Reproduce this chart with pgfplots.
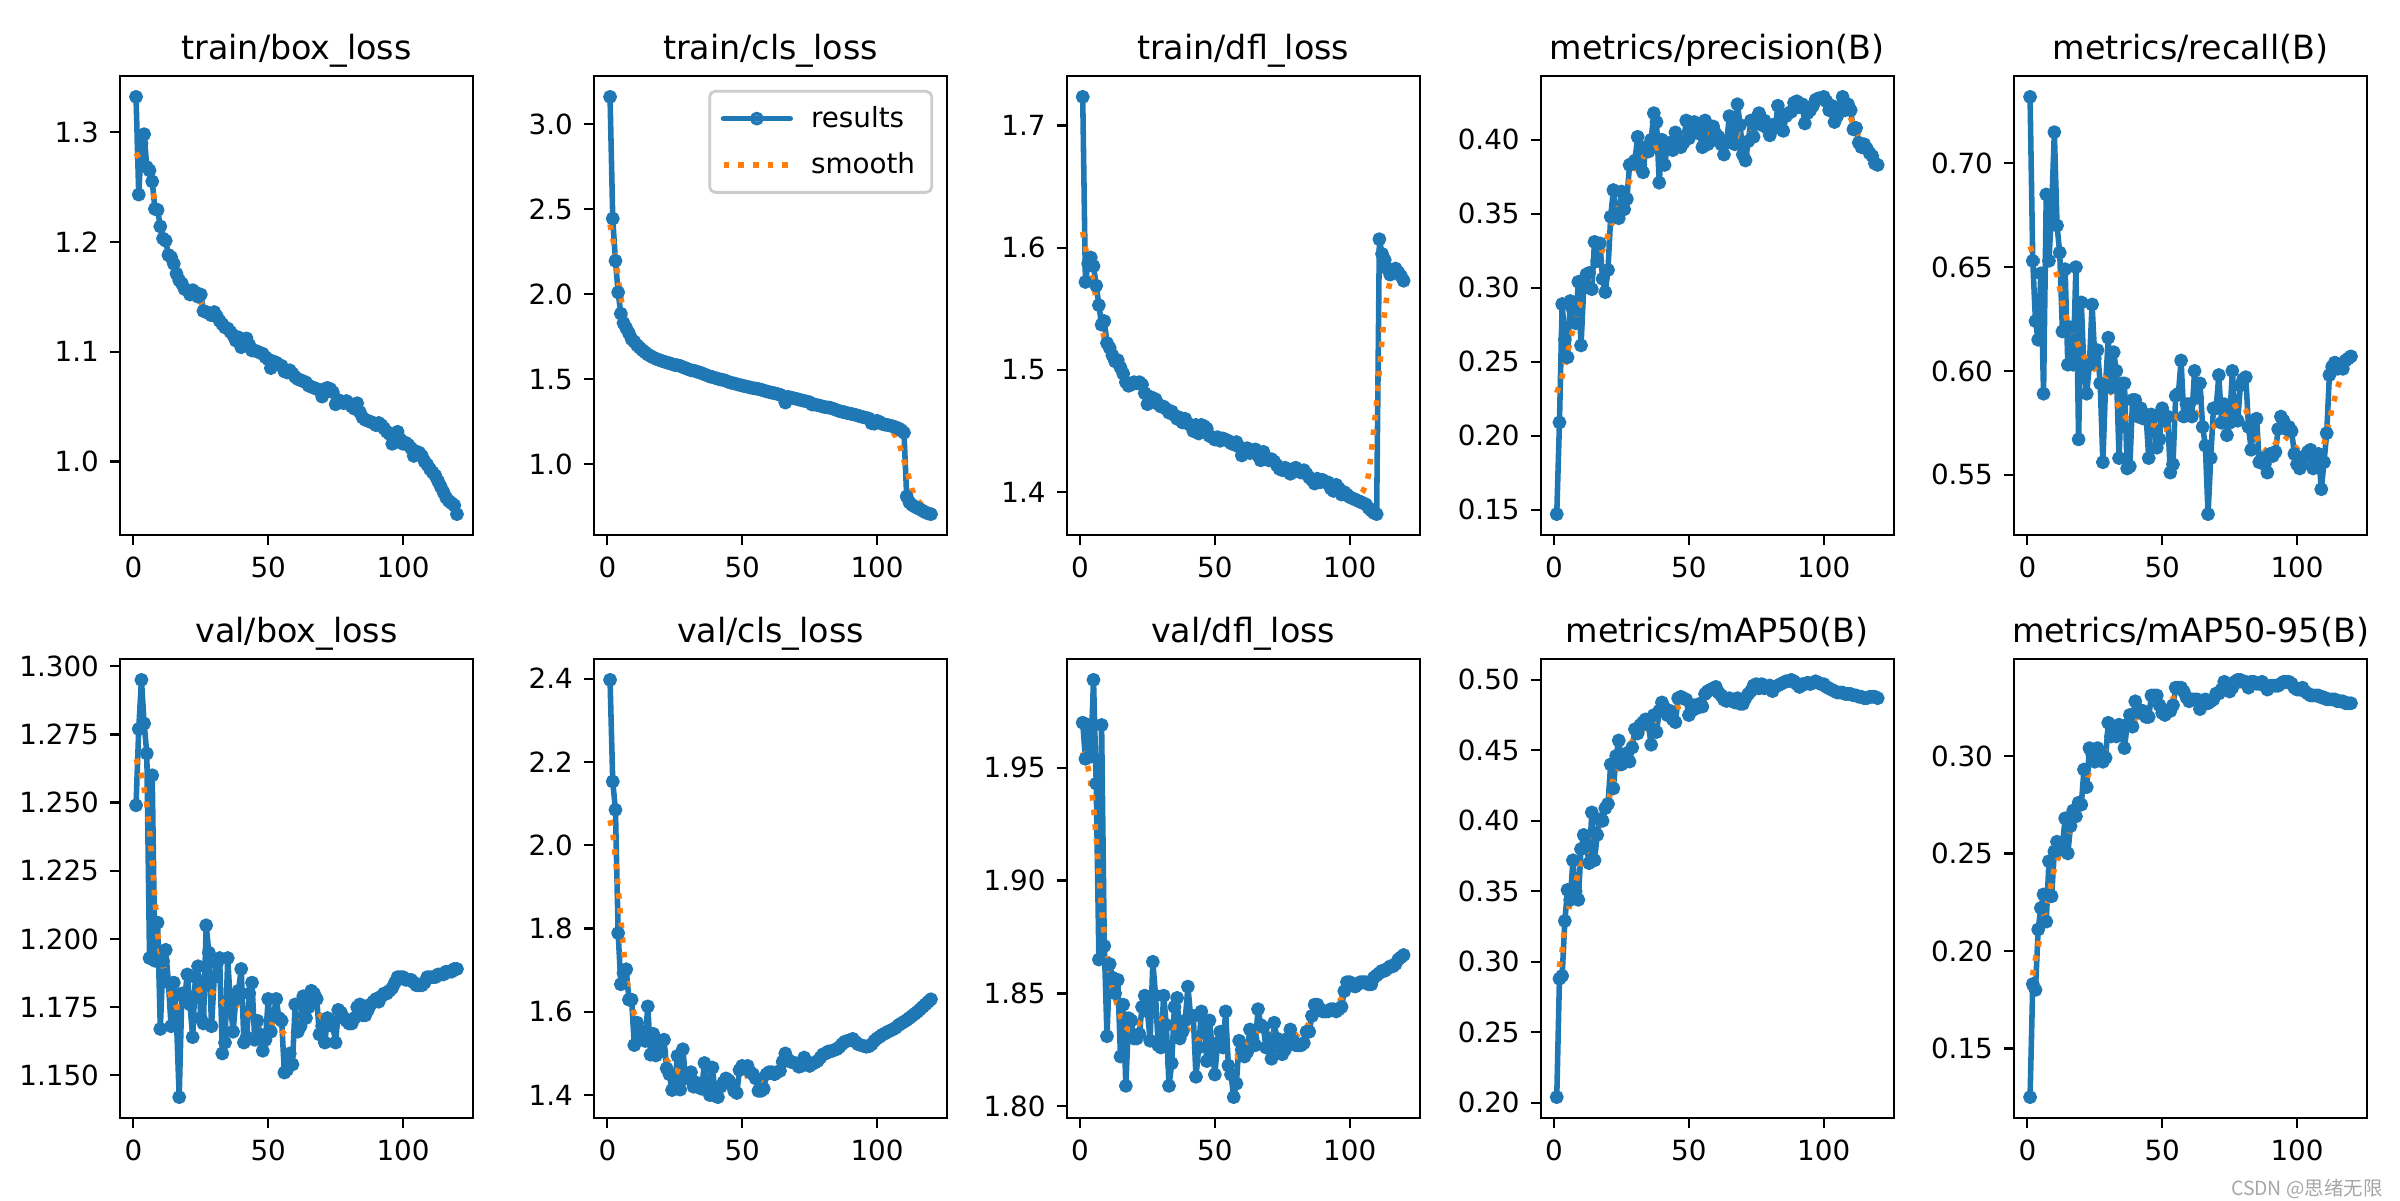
\documentclass[border=0pt]{standalone}
\usepackage{fontspec}
\setmainfont{DejaVu Sans}
\newfontfamily\cjk{Noto Sans CJK SC}
\usepackage{pgfplots}
\pgfplotsset{compat=1.18}
\definecolor{C0}{HTML}{1F77B4}
\definecolor{C1}{HTML}{FF7F0E}
\pgfplotsset{
  panel/.style={
    scale only axis, width=127.08pt, height=165.24pt, anchor=south west,
    xmin=-4.95, xmax=125.95, enlarge x limits=false, enlarge y limits=0.05,
    xtick={0,50,100}, tick pos=left, tick align=outside, major tick length=3.5pt,
    tick style={line width=0.8pt, black},
    axis line style={line width=0.8pt},
    scaled y ticks=false,
    /pgf/number format/assume math mode=true,
    ticklabel style={font=\fontsize{10}{12}\selectfont},
    yticklabel style={/pgf/number format/fixed, /pgf/number format/fixed zerofill, inner sep=0pt, xshift=-3.9pt},
    xticklabel style={inner sep=0pt, yshift=-4.3pt},
    title style={font=\fontsize{12}{14}\selectfont, at={(0.5,1)}, anchor=base, inner sep=0pt},
  },
  res/.style={color=C0, line width=2pt, line join=round, line cap=round, mark=*, mark size=2pt, mark options={solid, line width=1pt}},
  smo/.style={color=C1, line width=2pt, no marks, dash pattern=on 2pt off 3.3pt},
}
\begin{document}
\begin{tikzpicture}
\path[use as bounding box] (0,0) rectangle (864pt,432pt);

% ---------- train/box_loss
\begin{axis}[panel, at={(43.2pt,239.4pt)}, title={train/box\_loss},
  ytick={1.0,1.1,1.2,1.3}, yticklabel style={/pgf/number format/precision=1}]
\addplot[res] coordinates {(1,1.332)(2,1.243)(3,1.290)(4,1.298)(5,1.268)(6,1.265)(7,1.255)(8,1.230)(9,1.229)(10,1.214)
(11,1.203)(12,1.201)(13,1.188)(14,1.186)(15,1.180)(16,1.171)(17,1.165)(18,1.162)(19,1.157)(20,1.156)
(21,1.152)(22,1.156)(23,1.154)(24,1.150)(25,1.152)(26,1.137)(27,1.136)(28,1.135)(29,1.133)(30,1.136)
(31,1.132)(32,1.128)(33,1.125)(34,1.122)(35,1.121)(36,1.118)(37,1.115)(38,1.110)(39,1.113)(40,1.104)
(41,1.109)(42,1.112)(43,1.106)(44,1.101)(45,1.101)(46,1.100)(47,1.099)(48,1.098)(49,1.095)(50,1.093)
(51,1.085)(52,1.091)(53,1.090)(54,1.088)(55,1.087)(56,1.082)(57,1.081)(58,1.083)(59,1.080)(60,1.077)
(61,1.075)(62,1.074)(63,1.073)(64,1.072)(65,1.069)(66,1.068)(67,1.067)(68,1.066)(69,1.065)(70,1.059)
(71,1.066)(72,1.067)(73,1.066)(74,1.063)(75,1.052)(76,1.056)(77,1.054)(78,1.053)(79,1.055)(80,1.053)
(81,1.050)(82,1.048)(83,1.053)(84,1.045)(85,1.040)(86,1.038)(87,1.037)(88,1.036)(89,1.035)(90,1.033)
(91,1.035)(92,1.033)(93,1.030)(94,1.027)(95,1.025)(96,1.016)(97,1.022)(98,1.027)(99,1.020)(100,1.016)
(101,1.017)(102,1.015)(103,1.012)(104,1.005)(105,1.009)(106,1.008)(107,1.005)(108,1.000)(109,0.997)(110,0.993)
(111,0.990)(112,0.987)(113,0.982)(114,0.977)(115,0.972)(116,0.967)(117,0.964)(118,0.962)(119,0.960)(120,0.952)};
\addplot[smo] coordinates {(1,1.281)(3,1.272)(5,1.262)(7,1.247)(9,1.230)(11,1.212)(13,1.196)(15,1.182)(17,1.170)(19,1.161)
(21,1.156)(23,1.151)(25,1.145)(27,1.138)(29,1.134)(31,1.131)(33,1.126)(35,1.121)(37,1.116)(39,1.111)
(41,1.108)(43,1.105)(45,1.102)(47,1.099)(49,1.095)(51,1.091)(53,1.089)(55,1.086)(57,1.083)(59,1.080)
(61,1.076)(63,1.073)(65,1.070)(67,1.068)(69,1.066)(71,1.065)(73,1.063)(75,1.059)(77,1.055)(79,1.054)
(81,1.051)(83,1.048)(85,1.043)(87,1.039)(89,1.036)(91,1.034)(93,1.031)(95,1.026)(97,1.022)(99,1.019)
(101,1.016)(103,1.012)(105,1.008)(107,1.004)(109,0.999)(111,0.992)(113,0.984)(115,0.975)(117,0.968)(119,0.962)(120,0.960)};
\end{axis}

% ---------- train/cls_loss
\begin{axis}[panel, at={(213.84pt,239.4pt)}, title={train/cls\_loss},
  ytick={1.0,1.5,2.0,2.5,3.0}, yticklabel style={/pgf/number format/precision=1},
  legend cell align=left,
  legend style={at={(1,1)}, anchor=north east, xshift=-5pt, yshift=-5pt, draw=black!20, line width=1pt,
    rounded corners=2pt, fill=white, fill opacity=0.8, text opacity=1, font=\fontsize{10}{12}\selectfont,
    inner xsep=4pt, inner ysep=3.3pt, row sep=3.6pt,
    /tikz/every odd column/.append style={column sep=4.5pt}},
  legend image code/.code={\draw[mark repeat=2,mark phase=2] plot coordinates {(0pt,0pt) (12pt,0pt) (24pt,0pt)};}]
\addplot[res] coordinates {(1,3.160)(2,2.444)(3,2.196)(4,2.010)(5,1.885)(6,1.830)(7,1.800)(8,1.770)(9,1.735)(10,1.720)
(11,1.700)(12,1.685)(13,1.670)(14,1.658)(15,1.645)(16,1.636)(17,1.627)(18,1.620)(19,1.614)(20,1.608)
(21,1.603)(22,1.598)(23,1.594)(24,1.588)(25,1.583)(26,1.582)(27,1.578)(28,1.570)(29,1.565)(30,1.558)
(31,1.552)(32,1.550)(33,1.545)(34,1.540)(35,1.535)(36,1.528)(37,1.522)(38,1.515)(39,1.512)(40,1.507)
(41,1.502)(42,1.498)(43,1.495)(44,1.490)(45,1.483)(46,1.478)(47,1.475)(48,1.470)(49,1.466)(50,1.462)
(51,1.458)(52,1.455)(53,1.451)(54,1.447)(55,1.445)(56,1.442)(57,1.438)(58,1.433)(59,1.428)(60,1.424)
(61,1.420)(62,1.417)(63,1.413)(64,1.409)(65,1.400)(66,1.362)(67,1.395)(68,1.392)(69,1.388)(70,1.384)
(71,1.380)(72,1.376)(73,1.372)(74,1.368)(75,1.364)(76,1.350)(77,1.350)(78,1.347)(79,1.343)(80,1.338)
(81,1.335)(82,1.333)(83,1.330)(84,1.324)(85,1.318)(86,1.312)(87,1.308)(88,1.305)(89,1.300)(90,1.297)
(91,1.293)(92,1.290)(93,1.285)(94,1.280)(95,1.276)(96,1.272)(97,1.268)(98,1.240)(99,1.238)(100,1.255)
(101,1.248)(102,1.236)(103,1.232)(104,1.230)(105,1.226)(106,1.222)(107,1.216)(108,1.210)(109,1.200)(110,1.185)
(111,0.810)(112,0.775)(113,0.760)(114,0.750)(115,0.742)(116,0.734)(117,0.725)(118,0.716)(119,0.710)(120,0.706)};
\addlegendentry{results}
\addplot[smo] coordinates {(1,2.41)(2,2.33)(3,2.22)(4,2.09)(5,1.98)(6,1.90)(7,1.84)(8,1.79)(9,1.76)(10,1.73)
(12,1.70)(14,1.672)(16,1.645)(18,1.625)(20,1.610)(24,1.590)(28,1.570)(32,1.550)(36,1.528)(40,1.507)
(44,1.489)(48,1.470)(52,1.455)(56,1.441)(60,1.424)(64,1.405)(68,1.390)(72,1.376)(76,1.357)(80,1.339)
(84,1.323)(88,1.304)(92,1.289)(96,1.268)(100,1.248)(103,1.232)(105,1.215)(107,1.16)(108,1.13)(109,1.08)
(110,1.02)(111,0.97)(112,0.91)(113,0.85)(114,0.81)(116,0.77)(118,0.74)(120,0.725)};
\addlegendentry{smooth}
\end{axis}

% ---------- train/dfl_loss
\begin{axis}[panel, at={(384.0pt,239.4pt)}, title={train/dfl\_loss},
  ytick={1.4,1.5,1.6,1.7}, yticklabel style={/pgf/number format/precision=1}]
\addplot[res] coordinates {(1,1.7235)(2,1.572)(3,1.587)(4,1.592)(5,1.585)(6,1.569)(7,1.553)(8,1.537)(9,1.540)(10,1.522)
(11,1.518)(12,1.512)(13,1.507)(14,1.508)(15,1.502)(16,1.497)(17,1.490)(18,1.487)(19,1.488)(20,1.490)
(21,1.489)(22,1.490)(23,1.488)(24,1.481)(25,1.472)(26,1.478)(27,1.477)(28,1.476)(29,1.472)(30,1.470)
(31,1.470)(32,1.468)(33,1.465)(34,1.466)(35,1.463)(36,1.460)(37,1.461)(38,1.457)(39,1.460)(40,1.456)
(41,1.455)(42,1.450)(43,1.455)(44,1.448)(45,1.455)(46,1.454)(47,1.452)(48,1.446)(49,1.445)(50,1.443)
(51,1.445)(52,1.442)(53,1.444)(54,1.443)(55,1.442)(56,1.440)(57,1.439)(58,1.441)(59,1.437)(60,1.430)
(61,1.433)(62,1.436)(63,1.432)(64,1.434)(65,1.435)(66,1.430)(67,1.426)(68,1.433)(69,1.428)(70,1.426)
(71,1.427)(72,1.425)(73,1.422)(74,1.419)(75,1.418)(76,1.420)(77,1.417)(78,1.415)(79,1.419)(80,1.420)
(81,1.417)(82,1.416)(83,1.418)(84,1.415)(85,1.412)(86,1.410)(87,1.407)(88,1.411)(89,1.408)(90,1.410)
(91,1.408)(92,1.408)(93,1.403)(94,1.401)(95,1.406)(96,1.403)(97,1.398)(98,1.400)(99,1.398)(100,1.396)
(101,1.395)(102,1.394)(103,1.393)(104,1.392)(105,1.391)(106,1.390)(107,1.387)(108,1.385)(109,1.383)(110,1.382)
(111,1.607)(112,1.595)(113,1.590)(114,1.583)(115,1.578)(116,1.581)(117,1.583)(118,1.580)(119,1.577)(120,1.573)};
\addplot[smo] coordinates {(1,1.613)(2,1.600)(3,1.590)(4,1.580)(5,1.570)(6,1.558)(7,1.546)(8,1.535)(9,1.526)(10,1.518)
(12,1.507)(14,1.500)(16,1.494)(18,1.490)(20,1.488)(22,1.485)(24,1.480)(26,1.477)(28,1.474)(30,1.471)
(32,1.468)(34,1.465)(36,1.462)(38,1.459)(40,1.456)(42,1.453)(44,1.451)(46,1.450)(48,1.447)(50,1.445)
(52,1.443)(54,1.443)(56,1.441)(58,1.438)(60,1.435)(62,1.434)(64,1.433)(66,1.431)(68,1.429)(70,1.427)
(72,1.425)(74,1.421)(76,1.419)(78,1.418)(80,1.418)(82,1.417)(84,1.415)(86,1.411)(88,1.409)(90,1.409)
(92,1.407)(94,1.404)(96,1.402)(98,1.399)(100,1.397)(102,1.396)(104,1.398)(105,1.401)(106,1.406)(107,1.414)
(108,1.432)(109,1.452)(110,1.474)(111,1.500)(112,1.525)(113,1.548)(114,1.563)(115,1.572)(117,1.578)(119,1.578)(120,1.577)};
\end{axis}

% ---------- metrics/precision(B)
\begin{axis}[panel, at={(554.65pt,239.4pt)}, title={metrics/precision(B)},
  ytick={0.15,0.20,0.25,0.30,0.35,0.40}, yticklabel style={/pgf/number format/precision=2}]
\addplot[res] coordinates {(1,0.147)(2,0.209)(3,0.289)(4,0.265)(5,0.253)(6,0.291)(7,0.285)(8,0.276)(9,0.304)(10,0.261)
(11,0.300)(12,0.309)(13,0.310)(14,0.299)(15,0.331)(16,0.318)(17,0.330)(18,0.306)(19,0.297)(20,0.312)
(21,0.348)(22,0.366)(23,0.350)(24,0.347)(25,0.365)(26,0.353)(27,0.360)(28,0.383)(29,0.384)(30,0.386)
(31,0.402)(32,0.383)(33,0.378)(34,0.395)(35,0.392)(36,0.400)(37,0.418)(38,0.412)(39,0.371)(40,0.400)
(41,0.383)(42,0.396)(43,0.398)(44,0.393)(45,0.405)(46,0.400)(47,0.395)(48,0.398)(49,0.413)(50,0.401)
(51,0.410)(52,0.412)(53,0.406)(54,0.404)(55,0.395)(56,0.413)(57,0.397)(58,0.399)(59,0.409)(60,0.404)
(61,0.402)(62,0.397)(63,0.390)(64,0.398)(65,0.416)(66,0.404)(67,0.397)(68,0.424)(69,0.410)(70,0.390)
(71,0.386)(72,0.399)(73,0.413)(74,0.402)(75,0.414)(76,0.418)(77,0.410)(78,0.413)(79,0.408)(80,0.403)
(81,0.410)(82,0.408)(83,0.423)(84,0.413)(85,0.406)(86,0.416)(87,0.418)(88,0.419)(89,0.425)(90,0.426)
(91,0.422)(92,0.424)(93,0.411)(94,0.418)(95,0.420)(96,0.423)(97,0.427)(98,0.428)(99,0.428)(100,0.429)
(101,0.426)(102,0.420)(103,0.423)(104,0.412)(105,0.416)(106,0.422)(107,0.429)(108,0.420)(109,0.424)(110,0.420)
(111,0.407)(112,0.408)(113,0.398)(114,0.395)(115,0.397)(116,0.394)(117,0.391)(118,0.389)(119,0.384)(120,0.383)};
\addplot[smo] coordinates {(1,0.229)(3,0.240)(5,0.256)(7,0.272)(9,0.285)(11,0.298)(13,0.306)(15,0.314)(17,0.321)(19,0.330)
(21,0.341)(23,0.351)(25,0.360)(27,0.368)(29,0.376)(31,0.383)(33,0.388)(35,0.392)(37,0.394)(39,0.395)
(41,0.396)(43,0.398)(45,0.400)(47,0.401)(49,0.403)(51,0.405)(53,0.405)(55,0.404)(57,0.404)(59,0.403)
(61,0.401)(63,0.400)(65,0.402)(67,0.404)(69,0.403)(71,0.402)(73,0.404)(75,0.408)(77,0.410)(79,0.410)
(81,0.411)(83,0.413)(85,0.415)(87,0.418)(89,0.421)(91,0.422)(93,0.421)(95,0.421)(97,0.423)(99,0.425)
(101,0.425)(103,0.423)(105,0.421)(107,0.421)(109,0.418)(111,0.411)(113,0.403)(115,0.397)(117,0.392)(119,0.388)(120,0.386)};
\end{axis}

% ---------- metrics/recall(B)
\begin{axis}[panel, at={(725.04pt,239.4pt)}, title={metrics/recall(B)},
  ytick={0.55,0.60,0.65,0.70}, yticklabel style={/pgf/number format/precision=2}]
\addplot[res] coordinates {(1,0.732)(2,0.653)(3,0.624)(4,0.615)(5,0.647)(6,0.589)(7,0.685)(8,0.653)(9,0.678)(10,0.715)
(11,0.670)(12,0.657)(13,0.619)(14,0.649)(15,0.603)(16,0.621)(17,0.603)(18,0.650)(19,0.567)(20,0.633)
(21,0.600)(22,0.589)(23,0.603)(24,0.632)(25,0.606)(26,0.610)(27,0.594)(28,0.556)(29,0.593)(30,0.616)
(31,0.592)(32,0.609)(33,0.600)(34,0.558)(35,0.594)(36,0.594)(37,0.553)(38,0.554)(39,0.586)(40,0.586)
(41,0.578)(42,0.582)(43,0.577)(44,0.579)(45,0.558)(46,0.579)(47,0.578)(48,0.563)(49,0.567)(50,0.582)
(51,0.576)(52,0.578)(53,0.551)(54,0.555)(55,0.588)(56,0.589)(57,0.605)(58,0.578)(59,0.584)(60,0.584)
(61,0.578)(62,0.600)(63,0.587)(64,0.594)(65,0.573)(66,0.564)(67,0.531)(68,0.558)(69,0.582)(70,0.582)
(71,0.598)(72,0.575)(73,0.584)(74,0.569)(75,0.575)(76,0.600)(77,0.578)(78,0.576)(79,0.593)(80,0.596)
(81,0.597)(82,0.573)(83,0.562)(84,0.576)(85,0.577)(86,0.556)(87,0.558)(88,0.555)(89,0.551)(90,0.560)
(91,0.559)(92,0.561)(93,0.572)(94,0.578)(95,0.576)(96,0.572)(97,0.573)(98,0.571)(99,0.560)(100,0.555)
(101,0.553)(102,0.555)(103,0.559)(104,0.561)(105,0.562)(106,0.553)(107,0.556)(108,0.560)(109,0.543)(110,0.556)
(111,0.570)(112,0.598)(113,0.602)(114,0.604)(115,0.601)(116,0.603)(117,0.601)(118,0.605)(119,0.606)(120,0.607)};
\addplot[smo] coordinates {(1,0.660)(3,0.653)(5,0.653)(7,0.652)(9,0.653)(11,0.646)(13,0.633)(15,0.623)(17,0.618)(19,0.612)
(21,0.607)(23,0.604)(25,0.601)(27,0.598)(29,0.596)(31,0.590)(33,0.585)(35,0.580)(37,0.577)(39,0.576)
(41,0.576)(43,0.576)(45,0.575)(47,0.574)(49,0.572)(51,0.572)(53,0.574)(55,0.577)(57,0.582)(59,0.583)
(61,0.583)(63,0.579)(65,0.574)(67,0.571)(69,0.573)(71,0.576)(73,0.578)(75,0.581)(77,0.583)(79,0.584)
(81,0.581)(83,0.575)(85,0.568)(87,0.563)(89,0.561)(91,0.563)(93,0.567)(95,0.569)(97,0.567)(99,0.564)
(101,0.561)(103,0.559)(105,0.558)(107,0.557)(109,0.560)(111,0.570)(113,0.582)(115,0.592)(117,0.599)(119,0.603)(120,0.604)};
\end{axis}

% ---------- val/box_loss
\begin{axis}[panel, at={(43.2pt,29.52pt)}, title={val/box\_loss},
  ytick={1.150,1.175,1.200,1.225,1.250,1.275,1.300}, yticklabel style={/pgf/number format/precision=3}]
\addplot[res] coordinates {(1,1.249)(2,1.277)(3,1.295)(4,1.279)(5,1.268)(6,1.193)(7,1.260)(8,1.192)(9,1.206)(10,1.167)
(11,1.192)(12,1.196)(13,1.184)(14,1.168)(15,1.184)(16,1.170)(17,1.142)(18,1.180)(19,1.178)(20,1.187)
(21,1.176)(22,1.164)(23,1.186)(24,1.190)(25,1.171)(26,1.169)(27,1.205)(28,1.195)(29,1.168)(30,1.186)
(31,1.191)(32,1.193)(33,1.158)(34,1.162)(35,1.193)(36,1.176)(37,1.166)(38,1.178)(39,1.181)(40,1.189)
(41,1.162)(42,1.164)(43,1.180)(44,1.184)(45,1.163)(46,1.170)(47,1.165)(48,1.159)(49,1.163)(50,1.178)
(51,1.166)(52,1.172)(53,1.178)(54,1.171)(55,1.170)(56,1.151)(57,1.152)(58,1.158)(59,1.154)(60,1.176)
(61,1.166)(62,1.168)(63,1.179)(64,1.171)(65,1.175)(66,1.181)(67,1.180)(68,1.178)(69,1.165)(70,1.168)
(71,1.162)(72,1.171)(73,1.170)(74,1.168)(75,1.162)(76,1.174)(77,1.173)(78,1.171)(79,1.170)(80,1.169)
(81,1.169)(82,1.171)(83,1.175)(84,1.176)(85,1.172)(86,1.172)(87,1.174)(88,1.176)(89,1.177)(90,1.178)
(91,1.177)(92,1.179)(93,1.180)(94,1.180)(95,1.181)(96,1.182)(97,1.184)(98,1.186)(99,1.186)(100,1.186)
(101,1.185)(102,1.185)(103,1.185)(104,1.184)(105,1.183)(106,1.183)(107,1.183)(108,1.184)(109,1.186)(110,1.186)
(111,1.186)(112,1.186)(113,1.187)(114,1.187)(115,1.187)(116,1.188)(117,1.188)(118,1.188)(119,1.189)(120,1.189)};
\addplot[smo] coordinates {(1,1.266)(3,1.260)(4,1.255)(5,1.249)(6,1.240)(7,1.228)(8,1.215)(9,1.202)(10,1.195)(12,1.186)
(14,1.179)(16,1.175)(18,1.175)(20,1.177)(22,1.179)(24,1.181)(26,1.182)(28,1.181)(30,1.180)(32,1.178)
(34,1.176)(36,1.176)(38,1.176)(40,1.175)(42,1.173)(44,1.171)(46,1.169)(48,1.168)(50,1.168)(52,1.169)
(54,1.168)(56,1.165)(58,1.164)(60,1.166)(62,1.170)(64,1.173)(66,1.175)(68,1.174)(70,1.171)(72,1.169)
(74,1.168)(76,1.168)(78,1.170)(80,1.170)(82,1.171)(84,1.173)(86,1.174)(88,1.175)(90,1.176)(92,1.178)
(94,1.180)(96,1.182)(98,1.184)(100,1.185)(102,1.185)(104,1.184)(106,1.184)(108,1.184)(110,1.185)(112,1.186)
(114,1.187)(116,1.187)(118,1.188)(120,1.189)};
\end{axis}

% ---------- val/cls_loss
\begin{axis}[panel, at={(213.84pt,29.52pt)}, title={val/cls\_loss},
  ytick={1.4,1.6,1.8,2.0,2.2,2.4}, yticklabel style={/pgf/number format/precision=1}]
\addplot[res] coordinates {(1,2.397)(2,2.153)(3,2.085)(4,1.789)(5,1.666)(6,1.693)(7,1.702)(8,1.629)(9,1.629)(10,1.520)
(11,1.574)(12,1.542)(13,1.552)(14,1.530)(15,1.613)(16,1.497)(17,1.547)(18,1.495)(19,1.520)(20,1.505)
(21,1.533)(22,1.464)(23,1.450)(24,1.412)(25,1.430)(26,1.494)(27,1.413)(28,1.510)(29,1.440)(30,1.440)
(31,1.455)(32,1.420)(33,1.430)(34,1.418)(35,1.415)(36,1.477)(37,1.430)(38,1.400)(39,1.466)(40,1.398)
(41,1.395)(42,1.420)(43,1.430)(44,1.440)(45,1.435)(46,1.425)(47,1.410)(48,1.405)(49,1.460)(50,1.470)
(51,1.465)(52,1.470)(53,1.455)(54,1.450)(55,1.440)(56,1.410)(57,1.410)(58,1.415)(59,1.450)(60,1.455)
(61,1.455)(62,1.450)(63,1.455)(64,1.458)(65,1.480)(66,1.500)(67,1.485)(68,1.480)(69,1.478)(70,1.476)
(71,1.468)(72,1.470)(73,1.490)(74,1.480)(75,1.470)(76,1.475)(77,1.478)(78,1.482)(79,1.490)(80,1.498)
(81,1.500)(82,1.505)(83,1.505)(84,1.508)(85,1.510)(86,1.515)(87,1.522)(88,1.528)(89,1.530)(90,1.532)
(91,1.535)(92,1.528)(93,1.522)(94,1.520)(95,1.518)(96,1.516)(97,1.517)(98,1.522)(99,1.530)(100,1.536)
(101,1.540)(102,1.545)(103,1.548)(104,1.552)(105,1.555)(106,1.558)(107,1.562)(108,1.568)(109,1.572)(110,1.576)
(111,1.580)(112,1.585)(113,1.590)(114,1.595)(115,1.600)(116,1.606)(117,1.612)(118,1.618)(119,1.624)(120,1.630)};
\addplot[smo] coordinates {(1,2.06)(2,2.03)(3,1.97)(4,1.90)(5,1.82)(6,1.75)(7,1.69)(8,1.645)(9,1.615)(10,1.595)
(12,1.570)(14,1.550)(16,1.535)(18,1.515)(20,1.500)(22,1.485)(24,1.465)(26,1.457)(28,1.452)(30,1.448)
(32,1.442)(34,1.437)(36,1.435)(38,1.432)(40,1.428)(42,1.426)(44,1.428)(46,1.432)(48,1.438)(50,1.444)
(52,1.447)(54,1.444)(56,1.437)(58,1.436)(60,1.443)(62,1.452)(64,1.462)(66,1.473)(68,1.479)(70,1.479)
(72,1.479)(74,1.478)(76,1.478)(78,1.482)(80,1.490)(82,1.498)(84,1.505)(86,1.513)(88,1.521)(90,1.527)
(92,1.527)(94,1.523)(96,1.522)(98,1.524)(100,1.532)(102,1.541)(104,1.550)(106,1.558)(108,1.567)(110,1.576)
(112,1.585)(114,1.595)(116,1.605)(118,1.615)(120,1.622)};
\end{axis}

% ---------- val/dfl_loss
\begin{axis}[panel, at={(384.0pt,29.52pt)}, title={val/dfl\_loss},
  ytick={1.80,1.85,1.90,1.95}, yticklabel style={/pgf/number format/precision=2}]
\addplot[res] coordinates {(1,1.970)(2,1.954)(3,1.969)(4,1.955)(5,1.989)(6,1.943)(7,1.865)(8,1.969)(9,1.871)(10,1.831)
(11,1.863)(12,1.857)(13,1.850)(14,1.856)(15,1.822)(16,1.845)(17,1.809)(18,1.839)(19,1.838)(20,1.830)
(21,1.830)(22,1.832)(23,1.844)(24,1.849)(25,1.842)(26,1.829)(27,1.864)(28,1.849)(29,1.827)(30,1.826)
(31,1.849)(32,1.836)(33,1.809)(34,1.819)(35,1.844)(36,1.848)(37,1.830)(38,1.833)(39,1.838)(40,1.853)
(41,1.840)(42,1.840)(43,1.813)(44,1.826)(45,1.842)(46,1.838)(47,1.820)(48,1.838)(49,1.826)(50,1.814)
(51,1.828)(52,1.833)(53,1.826)(54,1.842)(55,1.818)(56,1.814)(57,1.804)(58,1.810)(59,1.829)(60,1.825)
(61,1.822)(62,1.824)(63,1.834)(64,1.830)(65,1.827)(66,1.843)(67,1.836)(68,1.835)(69,1.826)(70,1.830)
(71,1.821)(72,1.837)(73,1.830)(74,1.826)(75,1.823)(76,1.825)(77,1.830)(78,1.834)(79,1.829)(80,1.827)
(81,1.827)(82,1.827)(83,1.828)(84,1.833)(85,1.833)(86,1.840)(87,1.845)(88,1.845)(89,1.843)(90,1.842)
(91,1.842)(92,1.842)(93,1.843)(94,1.843)(95,1.842)(96,1.843)(97,1.844)(98,1.851)(99,1.855)(100,1.855)
(101,1.854)(102,1.853)(103,1.854)(104,1.855)(105,1.855)(106,1.855)(107,1.854)(108,1.854)(109,1.857)(110,1.858)
(111,1.859)(112,1.860)(113,1.860)(114,1.861)(115,1.862)(116,1.862)(117,1.863)(118,1.865)(119,1.866)(120,1.867)};
\addplot[smo] coordinates {(1,1.957)(2,1.954)(3,1.950)(4,1.943)(5,1.933)(6,1.919)(7,1.903)(8,1.887)(9,1.876)(10,1.867)
(11,1.859)(12,1.852)(13,1.848)(14,1.844)(15,1.840)(16,1.836)(18,1.834)(20,1.834)(22,1.837)(24,1.840)
(26,1.841)(28,1.841)(30,1.839)(32,1.836)(34,1.835)(36,1.835)(38,1.835)(40,1.834)(42,1.831)(44,1.829)
(46,1.828)(48,1.827)(50,1.827)(52,1.826)(54,1.825)(56,1.823)(58,1.822)(60,1.825)(62,1.828)(64,1.831)
(66,1.833)(68,1.833)(70,1.832)(72,1.831)(74,1.829)(76,1.829)(78,1.830)(80,1.831)(82,1.833)(84,1.835)
(86,1.839)(88,1.841)(90,1.842)(92,1.843)(94,1.844)(96,1.846)(98,1.850)(100,1.853)(102,1.854)(104,1.855)
(106,1.856)(108,1.857)(110,1.858)(112,1.860)(114,1.861)(116,1.863)(118,1.865)(120,1.866)};
\end{axis}

% ---------- metrics/mAP50(B)
\begin{axis}[panel, at={(554.65pt,29.52pt)}, title={metrics/mAP50(B)},
  ytick={0.20,0.25,0.30,0.35,0.40,0.45,0.50}, yticklabel style={/pgf/number format/precision=2}]
\addplot[res] coordinates {(1,0.204)(2,0.288)(3,0.290)(4,0.329)(5,0.351)(6,0.344)(7,0.372)(8,0.350)(9,0.344)(10,0.380)
(11,0.390)(12,0.382)(13,0.370)(14,0.406)(15,0.372)(16,0.390)(17,0.401)(18,0.400)(19,0.409)(20,0.412)
(21,0.440)(22,0.423)(23,0.446)(24,0.457)(25,0.440)(26,0.444)(27,0.448)(28,0.442)(29,0.452)(30,0.465)
(31,0.462)(32,0.468)(33,0.470)(34,0.472)(35,0.468)(36,0.454)(37,0.475)(38,0.463)(39,0.478)(40,0.484)
(41,0.480)(42,0.475)(43,0.478)(44,0.472)(45,0.470)(46,0.487)(47,0.488)(48,0.487)(49,0.486)(50,0.475)
(51,0.478)(52,0.482)(53,0.480)(54,0.483)(55,0.481)(56,0.490)(57,0.492)(58,0.493)(59,0.494)(60,0.495)
(61,0.491)(62,0.489)(63,0.486)(64,0.485)(65,0.487)(66,0.485)(67,0.484)(68,0.487)(69,0.483)(70,0.483)
(71,0.487)(72,0.490)(73,0.492)(74,0.496)(75,0.497)(76,0.494)(77,0.497)(78,0.494)(79,0.495)(80,0.496)
(81,0.492)(82,0.495)(83,0.496)(84,0.497)(85,0.498)(86,0.499)(87,0.499)(88,0.500)(89,0.499)(90,0.497)
(91,0.495)(92,0.497)(93,0.497)(94,0.498)(95,0.497)(96,0.498)(97,0.499)(98,0.498)(99,0.497)(100,0.497)
(101,0.495)(102,0.494)(103,0.493)(104,0.492)(105,0.491)(106,0.491)(107,0.491)(108,0.490)(109,0.490)(110,0.490)
(111,0.489)(112,0.489)(113,0.488)(114,0.488)(115,0.487)(116,0.487)(117,0.488)(118,0.488)(119,0.488)(120,0.487)};
\addplot[smo] coordinates {(1,0.286)(3,0.308)(4,0.326)(6,0.342)(7,0.349)(8,0.356)(10,0.370)(12,0.378)(14,0.385)(16,0.393)
(18,0.400)(20,0.412)(22,0.430)(24,0.439)(26,0.446)(28,0.454)(30,0.459)(32,0.463)(34,0.466)(36,0.469)
(38,0.472)(40,0.475)(42,0.477)(44,0.479)(46,0.481)(48,0.482)(50,0.482)(52,0.483)(54,0.485)(56,0.487)
(58,0.489)(60,0.490)(62,0.489)(64,0.487)(66,0.486)(68,0.486)(70,0.487)(72,0.489)(74,0.492)(76,0.494)
(78,0.495)(80,0.495)(82,0.495)(84,0.496)(86,0.497)(88,0.498)(90,0.498)(92,0.498)(94,0.498)(96,0.498)
(98,0.497)(100,0.496)(102,0.494)(104,0.492)(106,0.491)(108,0.490)(110,0.490)(112,0.489)(114,0.488)(116,0.488)
(118,0.488)(120,0.488)};
\end{axis}

% ---------- metrics/mAP50-95(B)
\begin{axis}[panel, at={(725.04pt,29.52pt)}, title={metrics/mAP50-95(B)},
  ytick={0.15,0.20,0.25,0.30}, yticklabel style={/pgf/number format/precision=2}]
\addplot[res] coordinates {(1,0.125)(2,0.183)(3,0.180)(4,0.211)(5,0.222)(6,0.229)(7,0.215)(8,0.246)(9,0.228)(10,0.251)
(11,0.256)(12,0.252)(13,0.254)(14,0.268)(15,0.250)(16,0.264)(17,0.272)(18,0.269)(19,0.276)(20,0.275)
(21,0.293)(22,0.284)(23,0.304)(24,0.301)(25,0.297)(26,0.304)(27,0.302)(28,0.297)(29,0.299)(30,0.317)
(31,0.310)(32,0.315)(33,0.310)(34,0.316)(35,0.313)(36,0.304)(37,0.316)(38,0.321)(39,0.315)(40,0.328)
(41,0.324)(42,0.322)(43,0.323)(44,0.320)(45,0.320)(46,0.331)(47,0.331)(48,0.331)(49,0.326)(50,0.322)
(51,0.321)(52,0.323)(53,0.323)(54,0.326)(55,0.335)(56,0.335)(57,0.335)(58,0.333)(59,0.330)(60,0.328)
(61,0.329)(62,0.329)(63,0.329)(64,0.324)(65,0.327)(66,0.329)(67,0.327)(68,0.328)(69,0.329)(70,0.332)
(71,0.332)(72,0.334)(73,0.338)(74,0.336)(75,0.333)(76,0.335)(77,0.338)(78,0.339)(79,0.339)(80,0.338)
(81,0.338)(82,0.335)(83,0.338)(84,0.338)(85,0.337)(86,0.337)(87,0.338)(88,0.336)(89,0.334)(90,0.336)
(91,0.336)(92,0.336)(93,0.336)(94,0.337)(95,0.338)(96,0.338)(97,0.338)(98,0.337)(99,0.335)(100,0.334)
(101,0.334)(102,0.335)(103,0.333)(104,0.332)(105,0.331)(106,0.331)(107,0.331)(108,0.331)(109,0.330)(110,0.330)
(111,0.329)(112,0.329)(113,0.329)(114,0.329)(115,0.328)(116,0.328)(117,0.328)(118,0.327)(119,0.327)(120,0.327)};
\addplot[smo] coordinates {(1,0.180)(3,0.196)(5,0.209)(6,0.217)(8,0.228)(9,0.236)(10,0.242)(12,0.250)(14,0.255)(16,0.262)
(18,0.269)(20,0.278)(21,0.283)(23,0.292)(25,0.298)(28,0.302)(31,0.308)(35,0.313)(39,0.318)(44,0.323)
(48,0.326)(52,0.328)(55,0.330)(58,0.332)(61,0.331)(64,0.329)(67,0.329)(70,0.330)(73,0.332)(76,0.335)
(79,0.336)(82,0.337)(85,0.337)(88,0.337)(91,0.337)(94,0.336)(97,0.336)(100,0.335)(103,0.333)(106,0.332)
(109,0.331)(112,0.330)(115,0.329)(118,0.328)(120,0.327)};
\end{axis}

\node[anchor=base east, inner sep=0pt, text=black!35, font=\cjk\fontsize{7}{8}\selectfont] at (857.9pt,1.8pt) {CSDN @思绪无限};
\end{tikzpicture}
\end{document}
